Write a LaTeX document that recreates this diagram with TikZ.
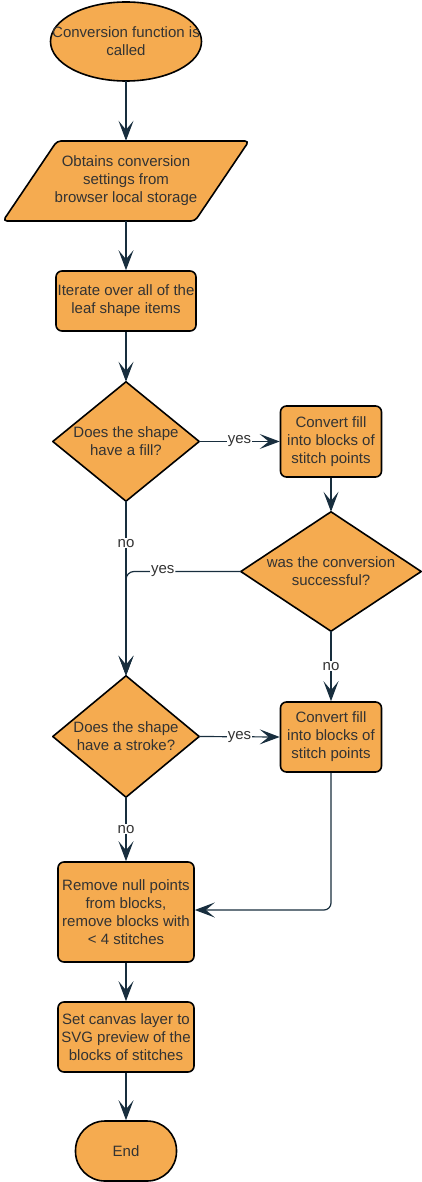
\documentclass[tikz,border=0pt]{standalone}
\usepackage{fontspec}
\setmainfont{Liberation Sans}
\usetikzlibrary{arrows.meta,backgrounds}
\definecolor{boxfill}{HTML}{F5AB50}
\definecolor{edgecol}{HTML}{182E3E}
\definecolor{txtcol}{HTML}{333333}
\begin{document}
\begin{tikzpicture}[x=1pt,y=-1pt,
  txt/.style={inner sep=0pt,align=center,text=txtcol,font=\fontsize{15}{18}\selectfont},
  holder/.style={txt},
  box/.style={txt,draw=black,fill=boxfill,line width=1.6pt,rounded corners=6pt},
  shp/.style={draw=black,fill=boxfill,line width=1.6pt,line join=round},
  conn/.style={draw=edgecol,line width=1.2pt,-{Stealth[length=20pt,width=15pt,inset=9pt]}},
  lbl/.style={fill=white,inner sep=1pt,text=txtcol,font=\fontsize{15}{18}\selectfont}]
\useasboundingbox (0,0) rectangle (422,1182);

% nodes
\node[holder,minimum width=151pt,minimum height=79pt] (start) at (126,41.5) {Conversion function is\\called};
\node[holder,minimum width=140pt,minimum height=80pt] (par) at (126,181) {Obtains conversion\\settings from\\browser local storage};
\node[box,minimum width=140pt,minimum height=60pt] (iter) at (126,301) {Iterate over all of the\\leaf shape items};
\node[holder,minimum width=146pt,minimum height=119pt] (d1) at (126,441.5) {Does the shape\\have a fill?};
\node[box,minimum width=101pt,minimum height=71pt] (c1) at (331,441.5) {Convert fill\\into blocks of\\stitch points};
\node[holder,minimum width=180pt,minimum height=119pt] (d2) at (331,571.5) {was the conversion\\successful?};
\node[holder,minimum width=146pt,minimum height=121pt] (d3) at (126,736.5) {Does the shape\\have a stroke?};
\node[box,minimum width=101pt,minimum height=70pt] (c2) at (331,737) {Convert fill\\into blocks of\\stitch points};
\node[box,minimum width=136pt,minimum height=100pt] (r4) at (126,912) {Remove null points\\from blocks,\\remove blocks with\\< 4 stitches};
\node[box,minimum width=136pt,minimum height=70pt] (r5) at (126,1037) {Set canvas layer to\\SVG preview of the\\blocks of stitches};
\node[box,rounded corners=29.5pt,minimum width=101pt,minimum height=60pt] (end) at (126,1151) {End};

% outlines of the special shapes
\begin{scope}[on background layer]
  \draw[shp] (start) ellipse [x radius=75.5pt, y radius=39.5pt];
  \draw[shp,rounded corners=4pt] (57,141) -- (249,141) -- (195,221) -- (3,221) -- cycle;
  \draw[shp] (d1.north) -- (d1.east) -- (d1.south) -- (d1.west) -- cycle;
  \draw[shp] (d2.north) -- (d2.east) -- (d2.south) -- (d2.west) -- cycle;
  \draw[shp] (d3.north) -- (d3.east) -- (d3.south) -- (d3.west) -- cycle;
\end{scope}

% connectors
\draw[conn] (start.south) -- (par.north);
\draw[conn] (par.south) -- (iter.north);
\draw[conn] (iter.south) -- (d1.north);
\draw[conn] (d1.east) -- node[lbl]{yes} (c1.west);
\draw[conn] (c1.south) -- (d2.north);
\draw[conn] (d1.south) -- node[lbl,pos=0.24]{no} (d3.north);
\draw[conn,rounded corners=8pt] (d2.west) -| node[lbl,pos=0.34]{yes} (d3.north);
\draw[conn] (d2.south) -- node[lbl]{no} (c2.north);
\draw[conn] (d3.east) -- node[lbl]{yes} (c2.west);
\draw[conn] (d3.south) -- node[lbl]{no} (r4.north);
\draw[conn,rounded corners=7pt] (c2.south) |- ([yshift=2pt]r4.east);
\draw[conn] (r4.south) -- (r5.north);
\draw[conn] (r5.south) -- (end.north);
\end{tikzpicture}
\end{document}
